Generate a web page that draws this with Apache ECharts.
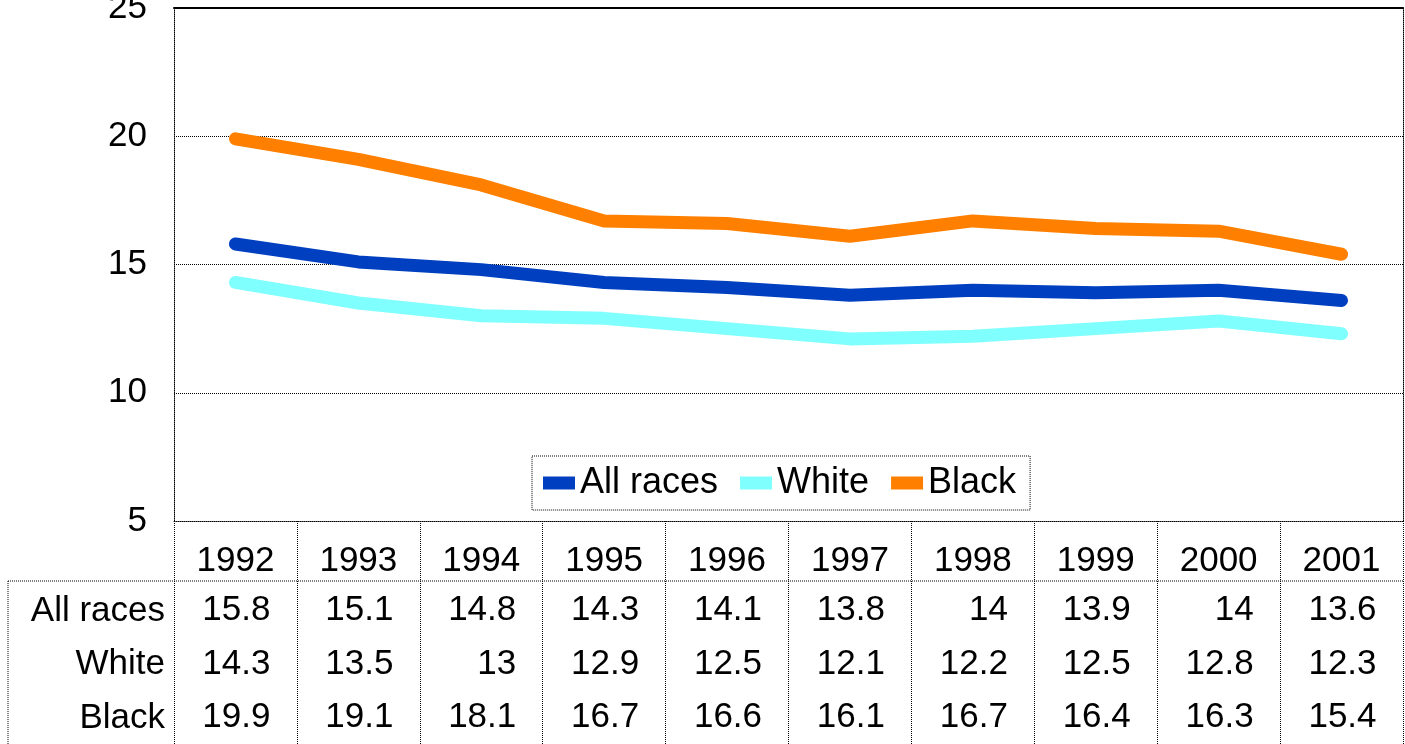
<!DOCTYPE html>
<head>
    <meta charset="utf-8">
    <title>Rates by race, 1992-2001</title>
    <script src="https://cdn.jsdelivr.net/npm/echarts@6/dist/echarts.min.js"></script>
    <style>
        html, body { margin: 0; padding: 0; background: #fff; }
        #main { width: 1405px; height: 744px; }
    </style>
</head>
<body>
    <div id="main"></div>
    <script type="text/javascript">
        var years = ['1992', '1993', '1994', '1995', '1996', '1997', '1998', '1999', '2000', '2001'];
        var allRaces = [15.8, 15.1, 14.8, 14.3, 14.1, 13.8, 14, 13.9, 14, 13.6];
        var white = [14.3, 13.5, 13, 12.9, 12.5, 12.1, 12.2, 12.5, 12.8, 12.3];
        var black = [19.9, 19.1, 18.1, 16.7, 16.6, 16.1, 16.7, 16.4, 16.3, 15.4];
        var seriesNames = ['All races', 'White', 'Black'];
        var seriesColors = ['#0040C0', '#80FFFF', '#FF8000'];

        var font = 'Arial, "Liberation Sans", sans-serif';
        var fs = 35;
        // plot area
        var gLeft = 174, gTop = 8, gRight = 2, gBottom = 223;
        var W = 1405, H = 744;
        var axisY = H - gBottom;          // 521
        var tableSplitY = axisY + 60;     // line under the year row
        var rowYs = [611, 664, 718];      // centres of the data rows

        var myChart = echarts.init(document.getElementById('main'));

        var dataRows = [allRaces, white, black];
        var rowHeaders = seriesNames.map(function (name, i) {
            return {
                type: 'text',
                x: 165,
                y: rowYs[i],
                style: {
                    text: name, fontSize: fs, fontFamily: font, fill: '#000',
                    align: 'right', verticalAlign: 'middle'
                }
            };
        });

        var option = {
            animation: false,
            backgroundColor: '#fff',
            grid: {
                left: gLeft, top: gTop, right: gRight, bottom: gBottom,
                containLabel: false, outerBoundsMode: 'none'
            },
            legend: {
                data: seriesNames,
                left: 532,
                top: 456,
                orient: 'horizontal',
                icon: 'rect',
                itemWidth: 32,
                itemHeight: 13,
                itemGap: 22,
                padding: [9, 14, 9, 11],
                borderColor: '#000',
                borderWidth: 1,
                borderType: 'dotted',
                backgroundColor: '#fff',
                itemStyle: { borderWidth: 0 },
                textStyle: { fontSize: 36, fontFamily: font, color: '#000', padding: [0, 0, 0, 0] }
            },
            xAxis: [
                {
                    type: 'category',
                    data: years,
                    boundaryGap: true,
                    axisLine: { lineStyle: { color: '#000', width: 1, type: 'dotted' } },
                    axisTick: {
                        show: true,
                        interval: 0,
                        length: gBottom,
                        lineStyle: { color: '#000', width: 1, type: 'dotted' }
                    },
                    axisLabel: {
                        interval: 0,
                        margin: 17,
                        formatter: function (val, idx) {
                            var s = '{y|' + val + '}';
                            for (var r = 0; r < dataRows.length; r++) {
                                s += '\n{v|' + dataRows[r][idx] + '}';
                            }
                            return s;
                        },
                        rich: {
                            y: { fontSize: fs, fontFamily: font, color: '#000', lineHeight: 46, width: 70, align: 'center' },
                            v: { fontSize: fs, fontFamily: font, color: '#000', lineHeight: 53.5, width: 70, align: 'right' }
                        }
                    },
                    splitLine: { show: false }
                },
                {
                    type: 'category',
                    data: years,
                    position: 'top',
                    axisLine: { lineStyle: { color: '#000', width: 2 } },
                    axisTick: { show: false },
                    axisLabel: { show: false }
                }
            ],
            yAxis: [
                {
                    type: 'value',
                    min: 5,
                    max: 25,
                    interval: 5,
                    axisLine: { show: true, lineStyle: { color: '#000', width: 1, type: 'dotted' } },
                    axisTick: { show: false },
                    axisLabel: { fontSize: fs, fontFamily: font, color: '#000', margin: 27 },
                    splitLine: { show: true, lineStyle: { color: '#000', width: 1, type: 'dotted' } }
                },
                {
                    type: 'value',
                    min: 5,
                    max: 25,
                    interval: 5,
                    position: 'right',
                    axisLine: { show: true, lineStyle: { color: '#000', width: 1, type: 'dotted' } },
                    axisTick: { show: false },
                    axisLabel: { show: false },
                    splitLine: { show: false }
                }
            ],
            graphic: [
                {
                    type: 'line',
                    shape: { x1: 8, y1: tableSplitY, x2: W - gRight, y2: tableSplitY },
                    style: { stroke: '#000', lineWidth: 1, lineDash: [1, 1] }
                },
                {
                    type: 'line',
                    shape: { x1: 8, y1: tableSplitY, x2: 8, y2: H },
                    style: { stroke: '#000', lineWidth: 1, lineDash: [1, 1] }
                }
            ].concat(rowHeaders),
            series: seriesNames.map(function (name, i) {
                return {
                    name: name,
                    type: 'line',
                    data: dataRows[i],
                    showSymbol: false,
                    symbol: 'none',
                    itemStyle: { color: seriesColors[i] },
                    lineStyle: { color: seriesColors[i], width: 13, cap: 'round', join: 'round' },
                    z: 3
                };
            })
        };
        myChart.setOption(option);
    </script>
</body>
